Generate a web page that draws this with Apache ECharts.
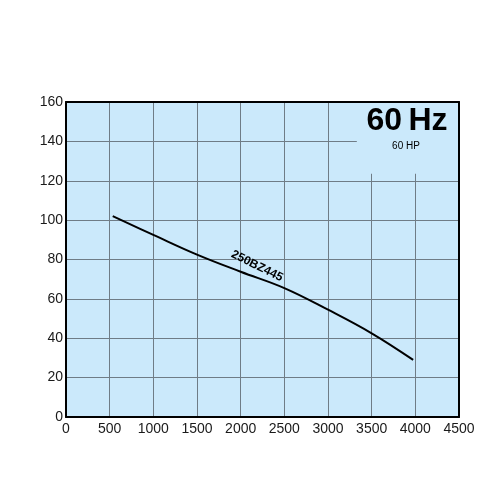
<!DOCTYPE html>
<html><head><meta charset="utf-8">
<script src="https://cdn.jsdelivr.net/npm/echarts@6/dist/echarts.min.js"></script>
<style>html,body{margin:0;padding:0;background:#fff;}#c{width:494px;height:494px;}</style>
</head><body><div id="c"></div>
<script>
const xTicks = [0, 500, 1000, 1500, 2000, 2500, 3000, 3500, 4000, 4500];
const yTicks = [0, 20, 40, 60, 80, 100, 120, 140, 160];
const flowX = [535, 1000, 1500, 2000, 2500, 3000, 3500, 3975];
const headY = [102, 92.5, 82.5, 73.8, 65.5, 54.5, 42.5, 29];
const curveName = '250BZ445';
const freqLabel = '60\u2009Hz';
const powerLabel = '60 HP';
const maskX = [3330, 4500];
const maskY = [123.5, 160];

const bg = '#cbe9fb';
const gridColor = '#6f7c86';
const font = 'Liberation Sans, Arial, sans-serif';

const chart = echarts.init(document.getElementById('c'));
const borderAxisX = (pos) => ({
  type: 'value', min: 0, max: 4500, position: pos, z: 10,
  axisLine: {show: true, onZero: false, lineStyle: {color: '#000', width: 2}},
  axisTick: {show: false}, axisLabel: {show: false}, splitLine: {show: false}
});
const borderAxisY = (pos) => ({
  type: 'value', min: 0, max: 160, position: pos, z: 10,
  axisLine: {show: true, onZero: false, lineStyle: {color: '#000', width: 2}},
  axisTick: {show: false}, axisLabel: {show: false}, splitLine: {show: false}
});
chart.setOption({
  animation: false,
  grid: {left: 66, right: 35, top: 102, bottom: 77, show: true, backgroundColor: bg, borderWidth: 0},
  xAxis: [{
    type: 'value', min: 0, max: 4500, interval: 500, z: 0,
    axisLine: {show: false}, axisTick: {show: false},
    axisLabel: {color: '#1a1a1a', fontSize: 14, fontFamily: font, margin: 5,
      formatter: v => xTicks.includes(v) ? String(v) : ''},
    splitLine: {show: true, lineStyle: {color: gridColor, width: 1}}
  }, borderAxisX('bottom'), borderAxisX('top')],
  yAxis: [{
    type: 'value', min: 0, max: 160, interval: 20, z: 0,
    axisLine: {show: false}, axisTick: {show: false},
    axisLabel: {color: '#1a1a1a', fontSize: 14, fontFamily: font, margin: 3,
      formatter: v => yTicks.includes(v) ? String(v) : ''},
    splitLine: {show: true, lineStyle: {color: gridColor, width: 1}}
  }, borderAxisY('left'), borderAxisY('right')],
  series: [{
    type: 'line', xAxisIndex: 0, yAxisIndex: 0, smooth: 0.4, symbol: 'none',
    lineStyle: {color: '#000', width: 2},
    data: flowX.map((x, i) => [x, headY[i]]),
    markArea: {silent: true, itemStyle: {color: bg, borderWidth: 0},
      data: [[{coord: [maskX[0], maskY[0]]}, {coord: [maskX[1], maskY[1]]}]]}
  }],
  graphic: [
    {type: 'text', x: 407, y: 137, z: 20,
      style: {text: freqLabel, font: 'bold 32px ' + font, fill: '#000', align: 'center', verticalAlign: 'bottom'}},
    {type: 'text', x: 406, y: 146, z: 20,
      style: {text: powerLabel, font: '10px ' + font, fill: '#000', align: 'center', verticalAlign: 'middle'}},
    {type: 'text', x: 257, y: 266, rotation: -0.46, z: 20,
      style: {text: curveName, font: 'bold 12px ' + font, fill: '#000', align: 'center', verticalAlign: 'middle'}}
  ]
});
</script></body></html>
